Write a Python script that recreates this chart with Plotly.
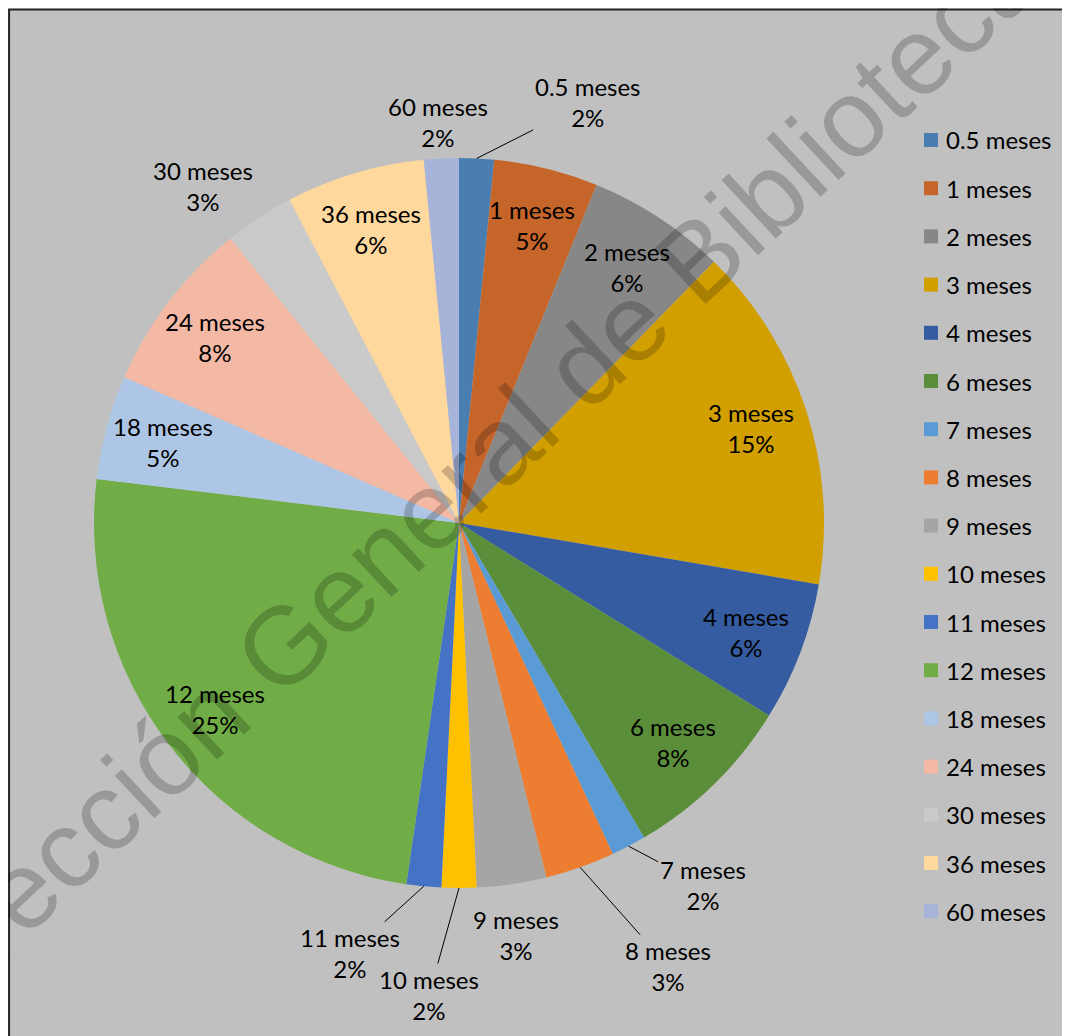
import math
import plotly.graph_objects as go

# tiempo de duración y número de casos
labels = ["0.5 meses", "1 meses", "2 meses", "3 meses", "4 meses", "6 meses",
          "7 meses", "8 meses", "9 meses", "10 meses", "11 meses", "12 meses",
          "18 meses", "24 meses", "30 meses", "36 meses", "60 meses"]
values = [1, 3, 4, 10, 4, 5, 1, 2, 2, 1, 1, 16, 3, 5, 2, 4, 1]
colors = ["#4A7EB1", "#C5652A", "#878787", "#D29F00", "#355CA0", "#5B8E3A",
          "#5B9BD5", "#ED7D31", "#A5A5A5", "#FFC000", "#4472C4", "#70AD47",
          "#ADC6E6", "#F4B9A5", "#CACACA", "#FFD89E", "#A7B4D9"]
watermark = "Dirección General de Bibliotecas"

W, H = 1070, 1036
FONT = "Lato"
BG = "#C0C0C0"
# centro y radio del pastel (px desde arriba a la izquierda)
cx, cy, R = 451, 515, 365

# etiquetas fuera del pastel: desplazamiento (px) desde el borde, con o sin línea guía
outside = {
    "0.5 meses": (111, -56, True),
    "7 meses": (74, 39, True),
    "8 meses": (88, 99, True),
    "9 meses": (4, 51, False),
    "10 meses": (-30, 107, True),
    "11 meses": (-74, 67, True),
    "30 meses": (-56, -32, False),
    "60 meses": (-3, -36, False),
}

fig = go.Figure()
fig.add_trace(go.Pie(
    labels=labels,
    values=values,
    sort=False,
    direction="clockwise",
    rotation=0,
    marker=dict(colors=colors, line=dict(width=0)),
    textinfo="none",
    domain=dict(x=[(cx - R) / W, (cx + R) / W],
                y=[(H - cy - R) / H, (H - cy + R) / H]),
    showlegend=False,
))

# etiquetas de datos
total = sum(values)
acc = 0
for lab, v in zip(labels, values):
    ang = 2 * math.pi * (acc + v / 2) / total
    acc += v
    txt = f"{lab}<br>{round(100 * v / total)}%"
    font = dict(family=FONT, size=24, color="black")
    if lab in outside:
        dx, dy, line = outside[lab]
        ex = cx + R * math.sin(ang)
        ey = cy - R * math.cos(ang)
        if line:
            fig.add_annotation(x=ex / W, y=1 - ey / H, xref="paper", yref="paper",
                               text=txt, font=font, showarrow=True, ax=dx, ay=dy,
                               arrowhead=0, arrowwidth=1, arrowcolor="black",
                               standoff=0)
        else:
            fig.add_annotation(x=ex / W, y=1 - ey / H, xref="paper", yref="paper",
                               text=txt, font=font, showarrow=False,
                               xanchor="center", yanchor="middle",
                               xshift=dx, yshift=-dy)
    else:
        r = 0.84 * R
        fig.add_annotation(x=(cx + r * math.sin(ang)) / W,
                           y=1 - (cy - r * math.cos(ang)) / H,
                           xref="paper", yref="paper",
                           xanchor="center", yanchor="middle",
                           text=txt, font=font, showarrow=False)

# fondo gris con borde
fig.add_shape(type="rect", xref="paper", yref="paper",
              x0=0.001, x1=1.02, y0=-0.02, y1=1 - 1.5 / H,
              fillcolor=BG, line=dict(color="#222222", width=2), layer="below")

# leyenda a la derecha
step = 48.2
for i, (lab, col) in enumerate(zip(labels, colors)):
    yc = 132 + i * step
    fig.add_shape(type="rect", xref="paper", yref="paper",
                  x0=916 / W, x1=930 / W,
                  y0=1 - (yc + 7) / H, y1=1 - (yc - 7) / H,
                  fillcolor=col, line=dict(width=0))
    fig.add_annotation(x=936 / W, y=1 - yc / H, xref="paper", yref="paper",
                       text=lab, showarrow=False, xanchor="left", yanchor="middle",
                       font=dict(family=FONT, size=24, color="black"))

# marca de agua
fig.add_annotation(x=470 / W, y=1 - 455 / H, xref="paper", yref="paper",
                   text=watermark, showarrow=False, textangle=-43,
                   xanchor="center", yanchor="middle",
                   font=dict(family="Liberation Sans", size=110,
                             color="rgba(0,0,0,0.2)"))

fig.update_layout(
    width=W, height=H,
    margin=dict(l=0, r=0, t=0, b=0, autoexpand=False),
    paper_bgcolor="white",
    plot_bgcolor=BG,
)

fig.write_html("out.html")
